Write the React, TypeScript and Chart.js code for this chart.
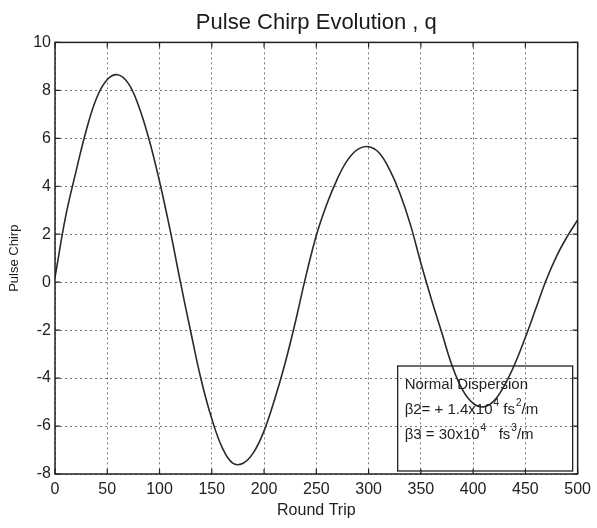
import React, { useEffect, useRef } from "react";
import { Chart, registerables } from "chart.js";

Chart.register(...registerables);

// ---- data ----
const roundTrips = [
  0, 10, 20, 30, 40, 50, 60, 70, 80, 90, 100, 110, 120, 130, 140, 150, 160, 170, 180, 190, 200,
  210, 220, 230, 240, 250, 260, 270, 280, 290, 300, 310, 320, 330, 340, 350, 360, 370, 380, 390,
  400, 410, 420, 430, 440, 450, 460, 470, 480, 490, 500,
];
const chirp = [
  0.2, 2.7, 4.6, 6.35, 7.7, 8.45, 8.65, 8.3, 7.35, 5.95, 4.2, 2.2, 0.0, -2.1, -4.1, -5.7, -6.9,
  -7.55, -7.55, -7.1, -6.2, -4.9, -3.4, -1.65, 0.25, 1.95, 3.25, 4.3, 5.1, 5.55, 5.65, 5.4, 4.7,
  3.7, 2.4, 0.8, -0.7, -2.1, -3.5, -4.5, -5.05, -5.2, -4.95, -4.3, -3.4, -2.3, -1.1, 0.1, 1.1, 1.9,
  2.6,
];
const xMin = 0;
const xMax = 500;
const xStep = 50;
const yMin = -8;
const yMax = 10;
const yStep = 2;

const titleText = "Pulse Chirp Evolution , q";
const xLabel = "Round Trip";
const yLabel = "Pulse Chirp";

// note box lines: [text, superscript]
const noteLine1: [string, string][] = [["Normal Dispersion", ""]];
const noteLine2: [string, string][] = [["\u03B22= + 1.4x10", "4"], [" fs", "2"], ["/m", ""]];
const noteLine3: [string, string][] = [["\u03B23 = 30x10", "4"], ["   fs", "3"], ["/m", ""]];
const noteLines = [noteLine1, noteLine2, noteLine3];

const FONT = "'Liberation Sans', Arial, Helvetica, sans-serif";

const framePlugin = {
  id: "matlabFrame",
  afterDatasetsDraw(chart: any) {
    const { ctx, chartArea, scales } = chart;
    const { left, right, top, bottom } = chartArea;
    ctx.save();
    ctx.strokeStyle = "#222";
    ctx.lineWidth = 1.5;
    ctx.strokeRect(left, top, right - left, bottom - top);
    // inward tick marks
    ctx.lineWidth = 1.2;
    const len = 5;
    scales.x.ticks.forEach((t: any) => {
      const px = scales.x.getPixelForValue(t.value);
      ctx.beginPath();
      ctx.moveTo(px, bottom);
      ctx.lineTo(px, bottom - len);
      ctx.moveTo(px, top);
      ctx.lineTo(px, top + len);
      ctx.stroke();
    });
    scales.y.ticks.forEach((t: any) => {
      const py = scales.y.getPixelForValue(t.value);
      ctx.beginPath();
      ctx.moveTo(left, py);
      ctx.lineTo(left + len, py);
      ctx.moveTo(right, py);
      ctx.lineTo(right - len, py);
      ctx.stroke();
    });

    // note box
    const bx = right - 180;
    const by = bottom - 108;
    const bw = 175;
    const bh = 105;
    ctx.lineWidth = 1.3;
    ctx.strokeRect(bx, by, bw, bh);
    ctx.fillStyle = "#222";
    ctx.textBaseline = "middle";
    ctx.textAlign = "left";
    noteLines.forEach((line, i) => {
      let x = bx + 7;
      const y = by + 19 + i * 25;
      line.forEach(([txt, sup]) => {
        ctx.font = `15px ${FONT}`;
        ctx.fillText(txt, x, y);
        x += ctx.measureText(txt).width;
        if (sup) {
          ctx.font = `10px ${FONT}`;
          ctx.fillText(sup, x + 1, y - 7);
          x += ctx.measureText(sup).width + 1;
        }
      });
    });
    ctx.restore();
  },
};

export default function App() {
  const ref = useRef<HTMLCanvasElement | null>(null);
  useEffect(() => {
    if (!ref.current) return;
    const chart = new Chart(ref.current, {
      type: "line",
      data: {
        datasets: [
          {
            data: roundTrips.map((x, i) => ({ x, y: chirp[i] })),
            borderColor: "#2a2a2a",
            borderWidth: 1.6,
            pointRadius: 0,
            tension: 0.4,
            fill: false,
          },
        ],
      },
      options: {
        animation: false,
        responsive: false,
        layout: { padding: { left: 0, right: 19, top: 0, bottom: 0 } },
        plugins: {
          legend: { display: false },
          tooltip: { enabled: false },
          title: {
            display: true,
            text: titleText,
            fullSize: false,
            color: "#1a1a1a",
            font: { family: FONT, size: 22, weight: "normal" },
            padding: { top: 10, bottom: 6 },
          },
        },
        scales: {
          x: {
            type: "linear",
            min: xMin,
            max: xMax,
            ticks: {
              stepSize: xStep,
              color: "#222",
              padding: 6,
              maxRotation: 0,
              font: { family: FONT, size: 16 },
            },
            grid: { color: "#777", lineWidth: 1, drawTicks: false },
            border: { display: false, dash: [2, 3] },
            title: {
              display: true,
              text: xLabel,
              color: "#222",
              font: { family: FONT, size: 16 },
              padding: { top: 0, bottom: 8 },
            },
            afterFit: (s: any) => {
              s.height = 54;
            },
          },
          y: {
            type: "linear",
            min: yMin,
            max: yMax,
            ticks: {
              stepSize: yStep,
              color: "#222",
              padding: 4,
              font: { family: FONT, size: 16 },
            },
            grid: { color: "#777", lineWidth: 1, drawTicks: false },
            border: { display: false, dash: [2, 3] },
            title: {
              display: true,
              text: yLabel,
              color: "#222",
              font: { family: FONT, size: 13 },
              padding: { top: 7, bottom: 0 },
            },
            afterFit: (s: any) => {
              s.width = 55;
            },
          },
        },
      },
      plugins: [framePlugin],
    });
    return () => chart.destroy();
  }, []);
  return (
    <div style={{ position: "fixed", left: 0, top: 0, width: 597, height: 528, background: "#fff" }}>
      <canvas ref={ref} width={597} height={528} />
    </div>
  );
}
